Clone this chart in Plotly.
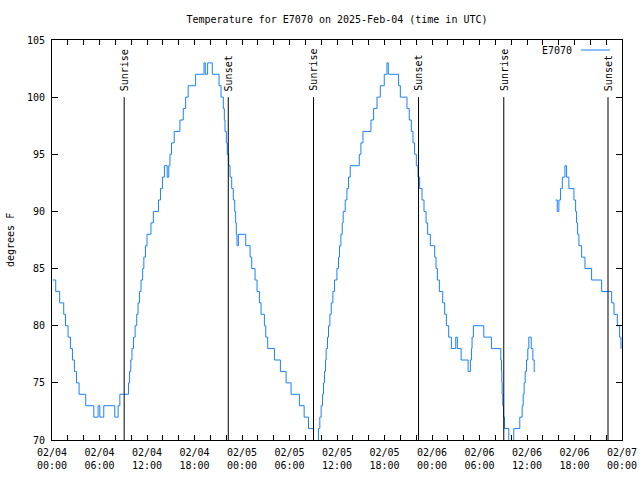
import datetime as dt
import plotly.graph_objects as go

START = dt.datetime(2025, 2, 4, 0, 0)

# Temperature change points: hours after 2025-02-04 00:00 UTC, value in deg F
seg1_hours = [0.1, 0.47, 0.97, 1.48, 1.7, 2.03, 2.33, 2.58, 2.83, 3.09, 3.42, 4.26, 5.28, 5.82, 6.04, 6.54,
              7.93, 8.35, 8.57, 9.66, 9.8, 9.95, 10.1, 10.3, 10.5, 10.7, 10.87, 11.05, 11.25, 11.45, 11.6,
              11.8, 12.0, 12.5, 12.8, 13.45, 13.7, 13.95, 14.2, 14.55, 14.75, 14.9, 15.1, 15.44, 16.16,
              16.58, 16.88, 17.2, 18.14, 19.2, 19.36, 19.66, 20.25, 21.1, 21.35, 21.64, 21.77, 21.85,
              22.02, 22.14, 22.32, 22.49, 22.7, 22.9, 23.08, 23.2, 23.28, 23.37, 23.54, 24.47, 25.02,
              25.23, 25.65, 25.9, 26.2, 26.41, 26.83, 27.0, 27.25, 28.1, 28.85, 29.57, 30.2, 31.25,
              31.85, 32.4, 33.03, 33.66, 33.83, 34.0, 34.17, 34.3, 34.42, 34.55, 34.63, 34.8, 34.93,
              35.1, 35.27, 35.48, 35.69, 35.99, 36.19, 36.32, 36.49, 36.66, 36.78, 37.04, 37.25, 37.46,
              37.67, 38.81, 39.02, 39.28, 40.29, 40.62, 41.05, 41.47, 41.97, 42.31, 42.48, 43.78, 44.0,
              44.84, 45.13, 45.39, 45.6, 45.8, 46.02, 46.23, 46.44, 46.74, 46.99, 47.25, 47.45, 47.79,
              48.34, 48.51, 48.68, 48.93, 49.35, 49.6, 49.82, 50.11, 50.45, 51.0, 51.2, 51.68, 52.56,
              52.85, 52.98, 53.06, 53.23, 54.54, 55.51, 56.69, 56.78, 56.82, 56.86, 56.94, 57.03, 57.15,
              57.7, 58.33, 59.09, 59.39, 59.52, 59.64, 59.77, 59.94, 60.1, 60.23, 60.53, 60.74, 60.91,
              61.04]
seg1_temps = [84, 83, 82, 81, 80, 79, 78, 77, 76, 75, 74, 73, 72, 73, 72, 73,
              72, 73, 74, 75, 76, 77, 78, 79, 80, 81, 82, 83, 84, 85, 86,
              87, 88, 89, 90, 91, 92, 93, 94, 93, 94, 95, 96, 97, 98,
              99, 100, 101, 102, 103, 102, 103, 102, 101, 100, 99, 98, 97,
              96, 95, 94, 93, 92, 91, 90, 89, 88, 87, 88, 87, 86,
              85, 84, 83, 82, 81, 80, 79, 78, 77, 76, 75, 74, 73,
              72, 71, 69, 71, 72, 73, 74, 75, 76, 77, 78, 79, 80,
              81, 82, 83, 84, 85, 86, 87, 88, 89, 90, 91, 92, 93,
              94, 95, 96, 97, 98, 99, 100, 101, 102, 103, 102, 101, 100,
              99, 98, 97, 96, 95, 94, 93, 92, 91, 90, 89, 88, 87,
              86, 85, 84, 83, 82, 81, 80, 79, 78, 79, 78, 77, 76,
              77, 78, 79, 80, 79, 78, 77, 76, 75, 74, 73, 72, 71,
              69, 71, 72, 73, 74, 75, 76, 77, 78, 79, 78, 77, 76,
              76]

seg2_hours = [63.61, 63.82, 64.03, 64.24, 64.46, 64.79, 65.0, 65.29, 65.93, 66.14, 66.26, 66.39, 66.56,
              66.9, 67.32, 68.16, 69.43, 70.69, 70.99, 71.41, 71.7, 71.87, 71.92]
seg2_temps = [91, 90, 91, 92, 93, 94, 93, 92, 91, 90, 89, 88, 87,
              86, 85, 84, 83, 82, 81, 80, 79, 78, 78]

sunrise_times = ["2025-02-04 09:07", "2025-02-05 09:02", "2025-02-06 09:04"]
sunset_times = ["2025-02-04 22:16", "2025-02-05 22:18", "2025-02-06 22:14"]

series_name = "E7070"
title_text = "Temperature for E7070 on 2025-Feb-04 (time in UTC)"
y_label = "degrees F"

BLUE = "#1a80ff"
FONT = "DejaVu Sans Mono"

FIG_W, FIG_H = 640, 480
M_L, M_R, M_T, M_B = 52, 18, 40, 40


def to_time(h):
    return START + dt.timedelta(hours=h)


xs = [to_time(h) for h in seg1_hours] + [None] + [to_time(h) for h in seg2_hours]
ys = list(seg1_temps) + [None] + list(seg2_temps)

fig = go.Figure()
fig.add_trace(go.Scatter(x=xs, y=ys, mode="lines", line=dict(color=BLUE, width=1, shape="hv"),
                         name=series_name, showlegend=False, connectgaps=False, hoverinfo="skip"))

for times, label in ((sunrise_times, "Sunrise"), (sunset_times, "Sunset")):
    for t in times:
        fig.add_shape(type="line", xref="x", yref="y", x0=t, x1=t, y0=70, y1=100,
                      line=dict(color="black", width=1))
        fig.add_annotation(x=t, y=100, xref="x", yref="y", text=label, showarrow=False,
                           textangle=-90, yanchor="bottom", xanchor="center", yshift=4,
                           font=dict(family=FONT, size=10, color="black"))

# gnuplot-style key: text then sample line
fig.add_annotation(x=0.9158, y=0.975, xref="paper", yref="paper", text=series_name, showarrow=False,
                   xanchor="right", yanchor="middle", font=dict(family=FONT, size=10, color="black"))
fig.add_shape(type="line", xref="paper", yref="paper", x0=0.928, x1=0.979, y0=0.975, y1=0.975,
              line=dict(color=BLUE, width=1))

fig.add_annotation(x=-42 / 570, y=0.5, xref="paper", yref="paper", text=y_label, showarrow=False,
                   textangle=-90, xanchor="center", yanchor="middle",
                   font=dict(family=FONT, size=10, color="black"))

fig.update_layout(
    width=FIG_W, height=FIG_H,
    margin=dict(l=M_L, r=M_R, t=M_T, b=M_B, autoexpand=False),
    paper_bgcolor="white", plot_bgcolor="white",
    title=dict(text=title_text, x=0.5, xref="paper", xanchor="center", y=1 - 19 / FIG_H, yanchor="middle",
               font=dict(family=FONT, size=10, color="black")),
    font=dict(family=FONT, size=10, color="black"),
    hovermode=False,
)
fig.update_xaxes(
    type="date", range=["2025-02-04 00:00", "2025-02-07 00:00"], automargin=False,
    dtick=6 * 3600000, tick0="2025-02-04 00:00", tickformat="%m/%d<br>%H:%M",
    ticks="inside", ticklen=5, tickcolor="black", showline=True, linecolor="black", linewidth=1,
    mirror="allticks", showgrid=False, zeroline=False, ticklabelstandoff=3,
    minor=dict(dtick=2 * 3600000, ticks="inside", ticklen=5, tickcolor="black", showgrid=False),
    tickfont=dict(family=FONT, size=10, color="black"),
)
fig.update_yaxes(
    range=[70, 105], dtick=5, tick0=70, automargin=False,
    ticks="inside", ticklen=6, tickcolor="black", showline=True, linecolor="black", linewidth=1,
    mirror="allticks", showgrid=False, zeroline=False, ticklabelstandoff=4,
    tickfont=dict(family=FONT, size=10, color="black"),
)

fig.write_html("out.html", config={"displayModeBar": False},
               post_script="document.body.style.margin='0';")
